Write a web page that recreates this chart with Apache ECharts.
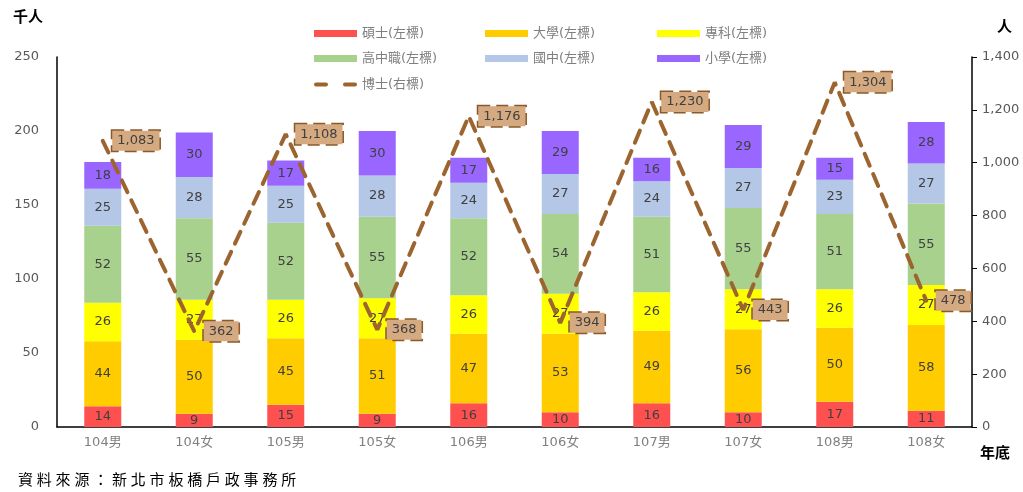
<!DOCTYPE html>
<html><head><meta charset="utf-8">
<script src="https://cdn.jsdelivr.net/npm/echarts@6/dist/echarts.min.js"></script>
<style>html,body{margin:0;padding:0;background:#fff}#c{width:1023px;height:492px}</style>
</head><body><div id="c"></div>
<script>
const categories = ['104男','104女','105男','105女','106男','106女','107男','107女','108男','108女'];
const master = [14,9,15,9,16,10,16,10,17,11];
const university = [44,50,45,51,47,53,49,56,50,58];
const college = [26,27,26,27,26,27,26,27,26,27];
const highSchool = [52,55,52,55,52,54,51,55,51,55];
const juniorHigh = [25,28,25,28,24,27,24,27,23,27];
const elementary = [18,30,17,30,17,29,16,29,15,28];
const doctor = [1083,362,1108,368,1176,394,1230,443,1304,478];

const FONT = '"DejaVu Sans","Noto Sans CJK TC",sans-serif';
const names = ['碩士(左標)','大學(左標)','專科(左標)','高中職(左標)','國中(左標)','小學(左標)','博士(右標)'];
const colors = ['#FF5050','#FFCC00','#FFFF00','#A9D18E','#B4C7E7','#9966FF','#9C642F'];
const barData = [master, university, college, highSchool, juniorHigh, elementary];
const sourceText = '資料來源：新北市板橋戶政事務所';

const fmt = v => String(v).replace(/\B(?=(\d{3})+(?!\d))/g, ',');

const series = barData.map((d, i) => ({
  name: names[i], type: 'bar', stack: 'edu', yAxisIndex: 0, barWidth: 37,
  data: d, itemStyle: { color: colors[i] },
  label: { show: true, position: 'inside', color: '#404040', fontFamily: FONT, fontSize: 13 }
}));
series.push({
  name: names[6], type: 'line', yAxisIndex: 1, data: doctor, z: 10,
  symbol: 'circle', symbolSize: 1, showSymbol: true,
  lineStyle: { color: colors[6], width: 4, type: [13, 9], cap: 'round' },
  itemStyle: { color: 'rgba(0,0,0,0)' },
  label: {
    show: true, position: 'right', distance: 9, formatter: p => fmt(p.value),
    color: '#404040', fontFamily: FONT, fontSize: 13,
    backgroundColor: '#D5AA80', borderColor: '#8B5A2B', borderType: 'dashed', borderWidth: 1.5,
    padding: [4, 5, 3, 5]
  }
});

const legendPos = [[314,27],[485,27],[657,27],[314,52],[485,52],[657,52],[314,78]];
const dashIcon = 'path://M2,0 H12 A2,2 0 0 1 12,4 H2 A2,2 0 0 1 2,0 Z M31,0 H41 A2,2 0 0 1 41,4 H31 A2,2 0 0 1 31,0 Z';
const legends = names.map((n, i) => ({
  data: i === 6 ? [{ name: n, icon: dashIcon, itemStyle: { color: colors[6] } }] : [n],
  left: legendPos[i][0], top: legendPos[i][1], padding: 0,
  itemWidth: 43, itemHeight: i === 6 ? 5 : 7,
  icon: i === 6 ? dashIcon : 'rect',
  textStyle: { color: '#7F7F7F', fontFamily: FONT, fontSize: 13 },
  selectedMode: false
}));

const sourceChars = Array.from(sourceText).map((ch, i) => ({
  type: 'text', left: 18 + i * 18.8, top: 472,
  style: { text: ch, fill: '#000', font: '15px "Noto Sans CJK TC"' }
}));

const chart = echarts.init(document.getElementById('c'));
chart.setOption({
  animation: false,
  legend: legends,
  grid: { left: 57, right: 51, top: 57, bottom: 65 },
  xAxis: {
    type: 'category', data: categories,
    axisLine: { lineStyle: { color: '#000', width: 1.5 } },
    axisTick: { show: false },
    axisLabel: { color: '#7F7F7F', fontFamily: FONT, fontSize: 13, margin: 9 }
  },
  yAxis: [
    { type: 'value', min: 0, max: 250, interval: 50,
      axisLine: { show: true, lineStyle: { color: '#000', width: 1.5 } },
      axisTick: { show: false }, splitLine: { show: false },
      axisLabel: { color: '#595959', fontFamily: FONT, fontSize: 13, margin: 18 } },
    { type: 'value', min: 0, max: 1400, interval: 200, position: 'right',
      axisLine: { show: true, lineStyle: { color: '#000', width: 1.5 } },
      axisTick: { show: true, inside: false, length: 5, lineStyle: { color: '#000' } },
      splitLine: { show: false },
      axisLabel: { color: '#595959', fontFamily: FONT, fontSize: 13, margin: 10,
        formatter: v => fmt(v) } }
  ],
  graphic: [
    { type: 'text', left: 13, top: 9, style: { text: '千人', fill: '#000', font: 'bold 15px "Noto Sans CJK TC"' } },
    { type: 'text', left: 997, top: 19, style: { text: '人', fill: '#000', font: 'bold 15px "Noto Sans CJK TC"' } },
    { type: 'text', left: 980, top: 445, style: { text: '年底', fill: '#000', font: 'bold 15px "Noto Sans CJK TC"' } }
  ].concat(sourceChars),
  series: series
});
</script></body></html>
